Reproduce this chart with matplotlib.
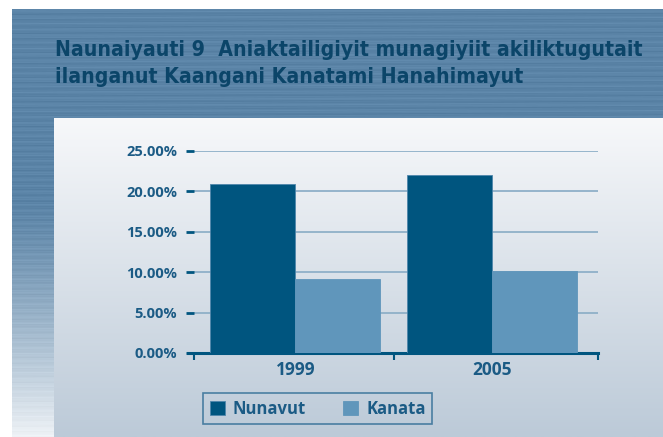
import numpy as np
import matplotlib.pyplot as plt
from matplotlib.colors import to_rgb
from matplotlib.ticker import FuncFormatter

W, H = 663, 437

TITLE = "Naunaiyauti 9  Aniaktailigiyit munagiyiit akiliktugutait\nilanganut Kaangani Kanatami Hanahimayut"
YEARS = ["1999", "2005"]
NUNAVUT = [20.9, 22.0]
KANATA = [9.1, 10.2]
SERIES = ["Nunavut", "Kanata"]
YTICKS = [0, 5, 10, 15, 20, 25]

C_NUNAVUT = "#00557f"
C_KANATA = "#6096bb"
C_TEXT = "#1b5b85"
C_TITLE = "#0b4569"
C_GRID = "#8fb0c8"


def px(x, y, w, h):
    # pixel box (top-left origin) -> figure fraction
    return [x / W, 1 - (y + h) / H, w / W, h / H]


fig = plt.figure(figsize=(W / 100, H / 100), dpi=100)
fig.patch.set_facecolor("white")

# textured blue backdrop
bg = fig.add_axes(px(12, 9, W - 12, H - 9))
bg.set_axis_off()
rows, cols = 428, 651
yy = np.linspace(0, 1, rows)[:, None]
xx = np.linspace(0, 1, cols)[None, :]
streak = (0.5 * np.sin(yy * 430) + 0.3 * np.sin(yy * 977 + xx * 9)
          + 0.2 * np.sin(yy * 1530 + xx * 23))
top = np.array(to_rgb("#5b84a7"))
low = np.array(to_rgb("#eef2f6"))
fade = np.clip((yy - 0.45) / 0.55, 0, 1) ** 1.2
fade = fade * np.ones_like(xx)
img = top[None, None, :] * (1 - fade[..., None]) + low[None, None, :] * fade[..., None]
img = img + (0.035 * streak * (1 - 0.6 * fade))[..., None]
bg.imshow(np.clip(img, 0, 1), aspect="auto", extent=[0, 1, 0, 1], interpolation="bilinear")

# light panel with vertical gradient
panel = fig.add_axes(px(54, 118, W - 54, H - 118))
panel.set_axis_off()
p_top = np.array(to_rgb("#f7f8fa"))
p_bot = np.array(to_rgb("#bccad8"))
g = np.linspace(0, 1, 200)[:, None, None]
panel.imshow(p_top * (1 - g) + p_bot * g, aspect="auto", extent=[0, 1, 0, 1])

fig.text(55 / W, 1 - 40 / H, TITLE, ha="left", va="top", fontsize=15.2,
         fontweight="bold", fontstretch="condensed", color=C_TITLE,
         family="DejaVu Sans", linespacing=1.42)

# chart axes
ax = fig.add_axes(px(194, 151, 404, 202))
ax.patch.set_alpha(0)
x = np.arange(len(YEARS))
bw = 0.433
ax.bar(x - bw / 2, NUNAVUT, bw, color=C_NUNAVUT, edgecolor="#4f86ab", linewidth=0.6,
       label=SERIES[0], zorder=3)
ax.bar(x + bw / 2, KANATA, bw, color=C_KANATA, edgecolor=C_KANATA, linewidth=0.6,
       label=SERIES[1], zorder=3)

ax.set_xlim(-0.516, 1.54)
ax.set_ylim(0, 25)
ax.set_yticks(YTICKS)
ax.yaxis.set_major_formatter(FuncFormatter(lambda v, _: f"{v:.2f}%"))
ax.grid(axis="y", color=C_GRID, linewidth=1.3, zorder=1)
ax.set_xticks(x)
ax.set_xticklabels(YEARS)
ax.set_xticks([-0.516, 0.5, 1.54], minor=True)
ax.tick_params(axis="x", which="major", length=0, pad=6, labelsize=12.5, labelcolor=C_TEXT)
ax.tick_params(axis="x", which="minor", length=5, width=1.5, color=C_NUNAVUT, direction="out")
ax.tick_params(axis="y", length=6, width=2, color=C_NUNAVUT, pad=6, labelsize=10.5,
               labelcolor=C_TEXT)
for lab in ax.get_xticklabels() + ax.get_yticklabels():
    lab.set_fontweight("bold")
    lab.set_family("Open Sans")
for s in ["top", "right", "left"]:
    ax.spines[s].set_visible(False)
ax.spines["bottom"].set_color(C_NUNAVUT)
ax.spines["bottom"].set_linewidth(2.2)
ax.spines["bottom"].set_bounds(-0.546, 1.54)

leg = ax.legend(loc="upper left", bbox_to_anchor=((203 - 194) / 404, -(393 - 353) / 202),
                borderaxespad=0, ncol=2, frameon=True, fancybox=False, handlelength=0.9,
                handleheight=0.9, columnspacing=2.2, handletextpad=0.5, borderpad=0.4,
                prop={"family": "Open Sans", "weight": "bold", "size": 12})
leg.get_frame().set_edgecolor("#2c6a93")
leg.get_frame().set_linewidth(1.2)
leg.get_frame().set_facecolor("none")
for t in leg.get_texts():
    t.set_color(C_TEXT)

fig.savefig("out.png", dpi=100)
